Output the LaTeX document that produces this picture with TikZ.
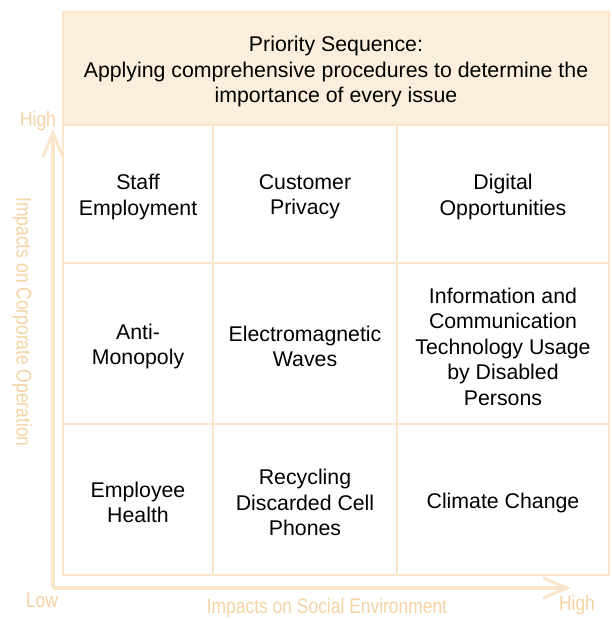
\documentclass[tikz,border=0pt]{standalone}
\usepackage{fontspec}
\setmainfont{Liberation Sans}
\usetikzlibrary{arrows.meta}

\definecolor{gridline}{HTML}{FAE6CB}
\definecolor{headfill}{HTML}{FBEEDC}
\definecolor{axistext}{HTML}{F5D3A2}

\tikzset{
    cell/.style={draw=gridline, line width=2pt, inner sep=0pt},
    celltext/.style={align=center, inner sep=0pt, yshift=-3pt,
        font=\fontsize{21.3}{25.5}\selectfont},
    axislabel/.style={text=axistext, inner sep=0pt, font=\fontsize{21}{25}\selectfont},
    axisline/.style={draw=gridline, line width=3.5pt, -{Straight Barb[length=24pt,width=20pt,line width=3pt]}}
}

\newcommand{\narrow}[1]{\scalebox{0.83}[1]{#1}}

\begin{document}
\begin{tikzpicture}[x=1pt, y=-1pt]
    \useasboundingbox (0,0) rectangle (611,619);

    % Header
    \node[cell, fill=headfill, minimum width=546pt, minimum height=113pt] (head) at (336,68.5) {};
    \node[celltext] (headtext) at (head)
        {Priority Sequence:\\Applying comprehensive procedures to determine the\\importance of every issue};

    % Top row
    \node[cell, minimum width=150pt, minimum height=138pt] (staff) at (138,194) {};
    \node[cell, minimum width=184pt, minimum height=138pt] (privacy) at (305,194) {};
    \node[cell, minimum width=212pt, minimum height=138pt] (digital) at (503,194) {};
    \node[celltext] (stafftext) at (staff) {Staff\\Employment};
    \node[celltext] (privacytext) at (privacy) {Customer\\Privacy};
    \node[celltext] (digitaltext) at (digital) {Digital\\Opportunities};

    % Middle row
    \node[cell, minimum width=150pt, minimum height=161pt] (antimono) at (138,343.5) {};
    \node[cell, minimum width=184pt, minimum height=161pt] (waves) at (305,343.5) {};
    \node[cell, minimum width=212pt, minimum height=161pt] (ict) at (503,343.5) {};
    \node[celltext] (antimonotext) at (antimono) {Anti-\\Monopoly};
    \node[celltext] (wavestext) at (waves) {Electromagnetic\\Waves};
    \node[celltext] (icttext) at (ict)
        {Information and\\Communication\\Technology Usage\\by Disabled\\Persons};

    % Bottom row
    \node[cell, minimum width=150pt, minimum height=151pt] (health) at (138,499.5) {};
    \node[cell, minimum width=184pt, minimum height=151pt] (recycle) at (305,499.5) {};
    \node[cell, minimum width=212pt, minimum height=151pt] (climate) at (503,499.5) {};
    \node[celltext] (healthtext) at (health) {Employee\\Health};
    \node[celltext] (recycletext) at (recycle) {Recycling\\Discarded Cell\\Phones};
    \node[celltext] (climatetext) at (climate) {Climate Change};

    % Axes
    \coordinate (origin) at (53,588);
    \coordinate (ytop) at (53,129);
    \coordinate (xend) at (571,588);
    \draw[axisline] (origin) -- (ytop);
    \draw[axisline] (origin) -- (xend);

    % Axis labels
    \node[axislabel] (yhigh) at (38,121) {\narrow{High}};
    \node[axislabel] (low) at (42,600) {\narrow{Low}};
    \node[axislabel] (xhigh) at (577,605) {\narrow{High}};
    \node[axislabel, rotate=-90] (ytitle) at (22,322) {\narrow{Impacts on Corporate Operation}};
    \node[axislabel] (xtitle) at (327,608) {\narrow{Impacts on Social Environment}};

\end{tikzpicture}
\end{document}
